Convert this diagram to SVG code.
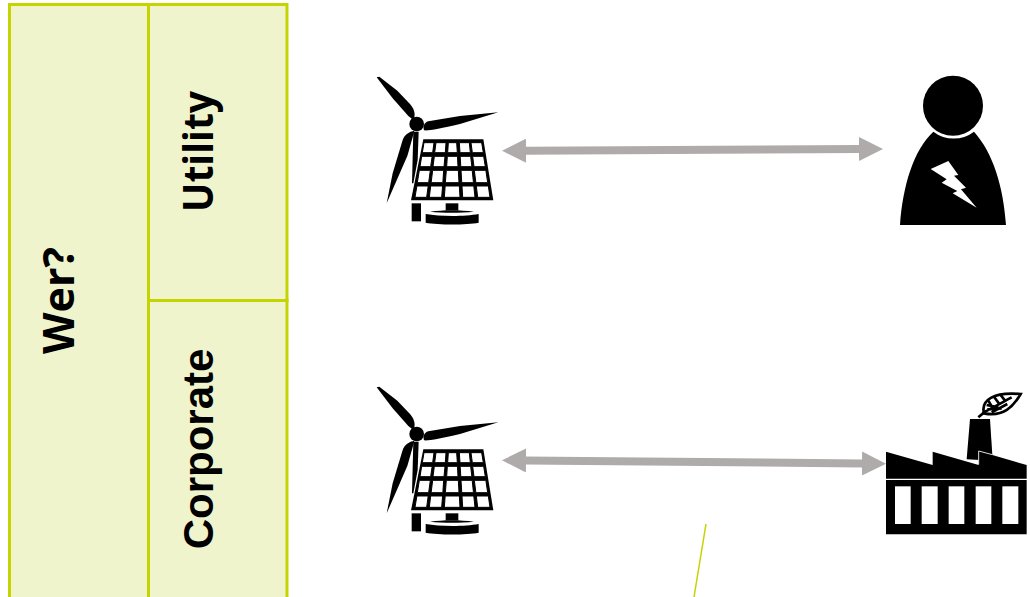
<svg xmlns="http://www.w3.org/2000/svg" width="1030" height="597" viewBox="0 0 1030 597">
<style>
.cell{fill:#F0F4CC;stroke:#C5D300;stroke-width:3}
.lbl{font-family:"Open Sans","Liberation Sans",sans-serif;font-weight:700;font-size:42px;fill:#000;text-anchor:middle}
.arrow{stroke:#AFABAB;stroke-width:8;fill:none;marker-start:url(#head);marker-end:url(#head)}
.w{fill:#fff;stroke:#000;stroke-width:3}
</style>
<defs>
<marker id="head" viewBox="0 0 24 24" refX="1" refY="12" markerWidth="24" markerHeight="24" markerUnits="userSpaceOnUse" orient="auto-start-reverse"><path d="M0,0L24,12L0,24Z" fill="#AFABAB"/></marker>
<g id="source">
<path d="M50,52L58,50L112,92L150,132C165,150 167,165 160,180L145,168L98,115Z"/>
<path d="M415,157L300,168L205,184C192,188 188,200 192,211C205,213 240,206 300,192Z"/>
<path d="M80,430L98,340L128,240C133,225 148,214 163,212C157,235 150,260 142,288Z"/>
<path d="M160,215L176,215L173,300L160,370L156,370Z"/>
<circle cx="170" cy="192" r="22"/>
<path d="M190,238L370,238L400,421L153,421Z"/>
<g class="w">
<path d="M192,248L222,248L218,278L187,278Z"/><path d="M228,248L258,248L256,278L224,278Z"/><path d="M265,248L290,248L292,278L263,278Z"/><path d="M298,248L328,248L331,278L300,278Z"/><path d="M333,248L365,248L370,278L337,278Z"/>
<path d="M185,289L216.500,289L212,320L180,320Z"/><path d="M223,289L255,289L252,320L219,320Z"/><path d="M262,289L292.500,289L294,320L260,320Z"/><path d="M300.500,289L332,289L335.500,320L302.400,320Z"/><path d="M338,289L371,289L376,320L342,320Z"/>
<path d="M178,331L211,331L206,368L172,368Z"/><path d="M218,331L251,331L248.500,368L213.400,368Z"/><path d="M259,331L295,331L297,368L256,368Z"/><path d="M303,331L336.600,331L340.400,368L305.300,368Z"/><path d="M343,331L377.600,331L383,368L347.600,368Z"/>
<path d="M170.700,378L204.600,378L200,412L165,412Z"/><path d="M212,378L247.700,378L245,412L208,412Z"/><path d="M255.500,378L298,378L300,412L253,412Z"/><path d="M306,378L341.400,378L345,412L308,412Z"/><path d="M349,378L385,378L390,412L353,412Z"/>
</g>
<rect x="155" y="430" width="28" height="54"/>
<rect x="257" y="430" width="38" height="21"/>
<path d="M210,455C250,449 300,449 342,455C300,459 250,459 210,455Z"/>
<path d="M197,462C240,470 315,470 356,462V488C320,495 235,495 197,488Z"/>
</g>
</defs>
<g id="table">
<g id="cell-wer"><rect class="cell" x="9.500" y="4.500" width="139" height="596"/><text class="lbl" style="font-size:43px" transform="translate(74,300.500) rotate(-90)">Wer?</text></g>
<g id="cell-utility"><rect class="cell" x="148.500" y="4.500" width="138.500" height="296"/><text class="lbl" textLength="121" lengthAdjust="spacingAndGlyphs" transform="translate(213,151.500) rotate(-90)">Utility</text></g>
<g id="cell-corporate"><rect class="cell" x="148.500" y="300.500" width="138.500" height="300"/><text class="lbl" style="font-family:'Liberation Sans',Arial,sans-serif;font-size:42px" transform="translate(213,449) rotate(-90)">Corporate</text></g>
</g>
<g id="connectors">
<line class="arrow" x1="525" y1="150.700" x2="860" y2="149"/>
<line class="arrow" x1="525" y1="460.500" x2="863" y2="463.500"/>
<line x1="706" y1="524" x2="694" y2="597" stroke="#C5D300" stroke-width="1.500"/>
</g>
<g id="source-utility" transform="translate(360,60) scale(.33333)"><use href="#source"/></g>
<g id="source-corporate" transform="translate(360,370) scale(.33333)"><use href="#source"/></g>
<g id="person" transform="translate(880,60) scale(.33333)">
<path d="M60,495C68,380 100,270 160,215A100,100 0 0 0 282,215C340,280 370,380 378,495Z"/>
<circle cx="219" cy="137" r="90"/>
<path fill="#fff" d="M152,327L205,303L235,345L222,347L258,383L243,388L290,443L218,400L232,393L185,368L200,358Z"/>
</g>
<g id="factory" transform="translate(870,380) scale(.33333)">
<path d="M300,117L360,117L367,226L330,240L290,238Z"/>
<path d="M48,215L188,255V215L326,255V213L470,255V296H48Z"/>
<path d="M326,253V213L367,224" fill="none" stroke="#ddd" stroke-width="3"/>
<path d="M48,300H470V463H48Z"/>
<g fill="#fff"><rect x="75" y="319" width="47" height="113"/><rect x="155" y="319" width="48" height="113"/><rect x="236" y="319" width="47" height="113"/><rect x="317" y="319" width="47" height="113"/><rect x="397" y="319" width="48" height="113"/></g>
<path d="M342,100C332,60 370,35 452,42C430,80 400,112 342,100Z" fill="#fff" stroke="#000" stroke-width="8"/>
<path d="M325,112L345,95C375,80 400,65 425,52M355,62L368,84M372,50L388,72M392,45L405,62M350,75L385,82M352,88L395,85M365,97L412,72" fill="none" stroke="#000" stroke-width="8"/>
</g>
</svg>
